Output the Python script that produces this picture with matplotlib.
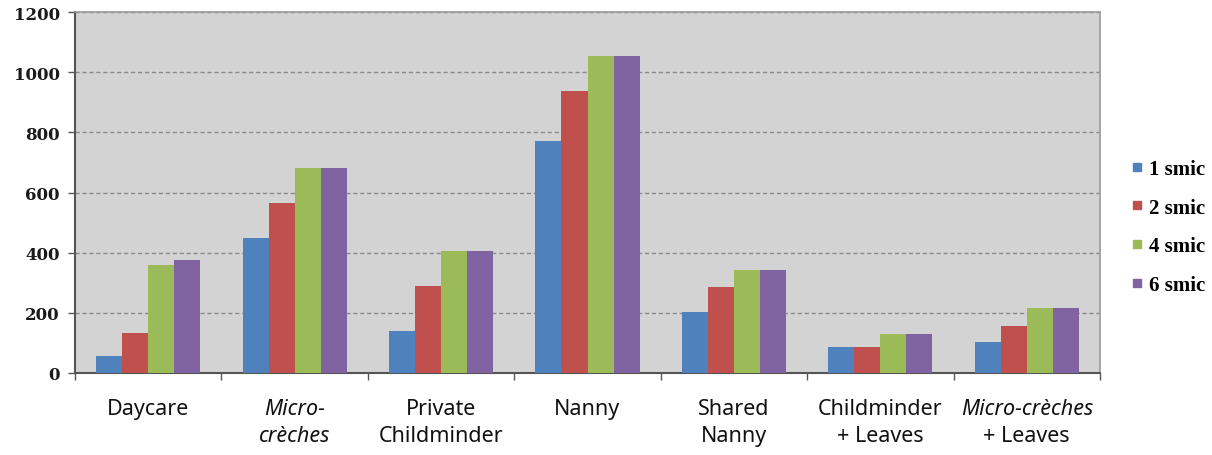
import matplotlib
matplotlib.use("Agg")
import matplotlib.pyplot as plt
from matplotlib.lines import Line2D
import numpy as np

categories = ["Daycare", "Micro-\ncrèches", "Private\nChildminder", "Nanny",
              "Shared\nNanny", "Childminder\n+ Leaves", "Micro-crèches\n+ Leaves"]
series_names = ["1 smic", "2 smic", "4 smic", "6 smic"]
smic1 = [57, 448, 141, 770, 202, 87, 102]
smic2 = [133, 565, 290, 938, 287, 87, 157]
smic4 = [360, 681, 406, 1054, 343, 130, 215]
smic6 = [375, 680, 406, 1054, 343, 130, 215]
yticks = [0, 200, 400, 600, 800, 1000, 1200]

colors = ["#4F81BD", "#C0504D", "#9BBB59", "#8064A2"]
values = [smic1, smic2, smic4, smic6]

fig = plt.figure(figsize=(12.12, 4.56), dpi=100)
ax = fig.add_axes([75/1212, 1 - 374/456, (1100-75)/1212, (374-13)/456])
ax.set_facecolor("#D3D3D3")

x = np.arange(len(categories))
w = 0.178
for i, (vals, c) in enumerate(zip(values, colors)):
    ax.bar(x + (i - 1.5) * w, vals, width=w, color=c, zorder=3, linewidth=0)

ax.set_xlim(-0.5, len(categories) - 0.5)
ax.set_ylim(0, 1200)
ax.set_yticks(yticks)
ax.set_yticklabels([str(v) for v in yticks], fontfamily="DejaVu Serif",
                   fontweight="bold", fontsize=12)
ax.yaxis.grid(True, linestyle=(0, (3, 2)), color="#8a8a8a", linewidth=1.0, zorder=1)
ax.tick_params(axis="y", length=5, width=1, color="#555555", pad=6, labelcolor="#1a1a1a")

# category boundary ticks
ax.set_xticks(np.arange(len(categories) + 1) - 0.5)
ax.set_xticklabels([])
ax.tick_params(axis="x", length=5, width=1, color="#555555")

for sp in ["left", "bottom"]:
    ax.spines[sp].set_color("#555555")
    ax.spines[sp].set_linewidth(1.5)
for sp in ["top", "right"]:
    ax.spines[sp].set_color("#9a9a9a")
    ax.spines[sp].set_linewidth(1.2)

# category labels
lab_font = "Noto Sans"
fs = 15.5
y1 = -0.069
y2 = -0.145
trans = ax.get_xaxis_transform()
for xi, lab in zip(x, categories):
    lines = lab.split("\n")
    italic_first = lab.startswith("Micro")
    for j, line in enumerate(lines):
        style = "italic" if (italic_first and (j == 0 or line.startswith("crèches"))) else "normal"
        ax.text(xi, y1 if j == 0 else y2, line, transform=trans, ha="center", va="top",
                fontsize=fs, family=lab_font, style=style, color="#111111")

handles = [Line2D([], [], marker="s", linestyle="none", markersize=6, color=c) for c in colors]
leg = fig.legend(handles, series_names, loc="upper left",
                 bbox_to_anchor=(1132/1212, 1 - 160/456), frameon=False,
                 prop={"family": "Liberation Serif", "weight": "bold", "size": 15},
                 handlelength=0.5, handletextpad=0.3, labelspacing=0.9, borderpad=0,
                 borderaxespad=0)

fig.savefig("out.png", dpi=100)
